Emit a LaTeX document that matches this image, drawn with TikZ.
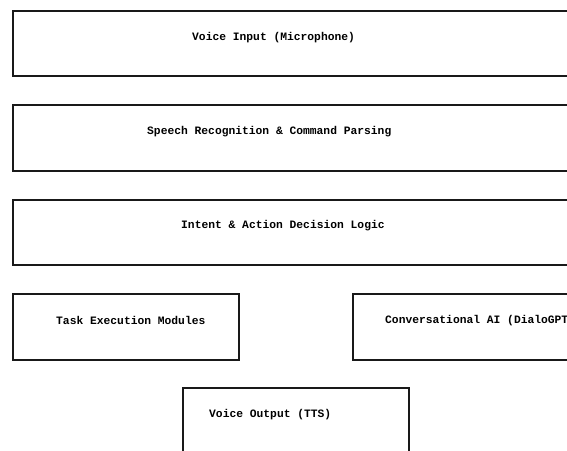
\documentclass[tikz,border=0pt]{standalone}
\usepackage{fontspec}
\newfontfamily\boxfont{Liberation Mono}
\begin{document}
\begin{tikzpicture}[x=1pt,y=-1pt,
  box/.style={draw=black!90,line width=2.4pt,rectangle,inner sep=0pt,anchor=north west},
  lbl/.style={anchor=west,inner sep=0pt,font=\boxfont\bfseries\fontsize{11.3}{13}\selectfont}]
\useasboundingbox (0,0) rectangle (567,450);
\node[box,minimum width=600pt,minimum height=65pt] (b1) at (12,10) {};
\node[box,minimum width=600pt,minimum height=66.5pt] (b2) at (12,103.5) {};
\node[box,minimum width=600pt,minimum height=65.5pt] (b3) at (12,198.5) {};
\node[box,minimum width=225.5pt,minimum height=66pt] (b4) at (12,292.5) {};
\node[box,minimum width=260pt,minimum height=66pt] (b5) at (352,292.5) {};
\node[box,minimum width=226pt,minimum height=100pt] (b6) at (182,386.5) {};
\node[lbl] (t1) at (192,37.5) {Voice Input (Microphone)};
\node[lbl] (t2) at (147,131.5) {Speech Recognition \& Command Parsing};
\node[lbl] (t3) at (181,225.5) {Intent \& Action Decision Logic};
\node[lbl] (t4) at (56,320.5) {Task Execution Modules};
\node[lbl] (t5) at (385,320.5) {Conversational AI (DialoGPT)};
\node[lbl] (t6) at (209,414.5) {Voice Output (TTS)};
\end{tikzpicture}
\end{document}
